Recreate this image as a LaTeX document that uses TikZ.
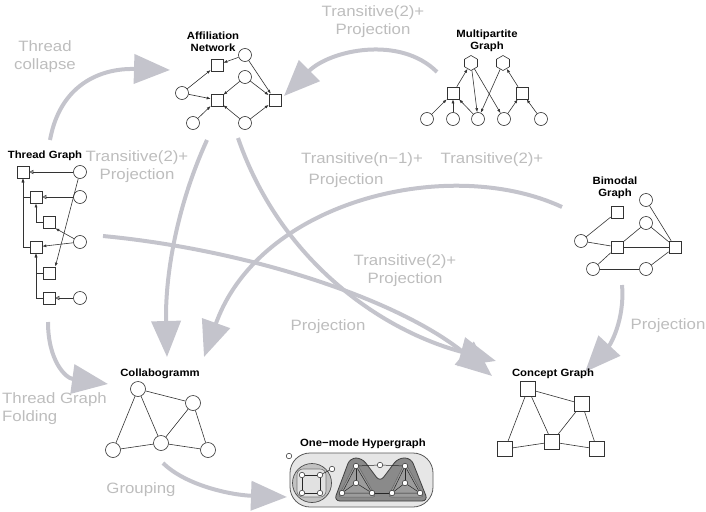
\documentclass[tikz,border=0pt]{standalone}
\usepackage{fontspec}
\setmainfont{Liberation Sans}
\newfontfamily\lblfont[FakeStretch=1.12]{Liberation Sans}
\newfontfamily\titfont[FakeStretch=1.08]{Liberation Sans}
\usetikzlibrary{arrows.meta,shapes.geometric}
\definecolor{arrowgray}{HTML}{C4C4CC}
\definecolor{labelgray}{HTML}{BDBDBD}
\definecolor{hyperlight}{HTML}{E6E6E6}
\definecolor{hypermid}{HTML}{C2C2C2}
\definecolor{hyperdark}{HTML}{8A8A8A}
\begin{document}
\begin{tikzpicture}[x=1pt,y=-1pt,
  sq/.style={draw=black!80,fill=white,rectangle,minimum size=12pt,inner sep=0pt,line width=0.6pt},
  ci/.style={draw=black!80,fill=white,circle,minimum size=13pt,inner sep=0pt,line width=0.6pt},
  bsq/.style={sq,minimum size=15pt},
  bci/.style={ci,minimum size=15pt},
  hexa/.style={draw=black!80,fill=white,regular polygon,regular polygon sides=6,minimum size=15pt,inner sep=0pt,shape border rotate=30,line width=0.6pt},
  edge/.style={line width=0.6pt,draw=black!80},
  arr/.style={edge,-{Latex[length=4pt,width=3pt]}},
  oarr/.style={edge,-{Triangle[open,length=4pt,width=4pt]}},
  bigarrow/.style={draw=arrowgray,line width=4pt,-{Triangle[length=36pt,width=29pt]}},
  title/.style={font=\titfont\bfseries\fontsize{10.5}{12}\selectfont,align=center,inner sep=0pt},
  lbl/.style={text=labelgray,font=\lblfont\fontsize{15}{18}\selectfont,align=center,inner sep=0pt},
  dot/.style={circle,draw=black!85,fill=white,minimum size=5.5pt,inner sep=0pt,line width=0.5pt}]
\useasboundingbox (0,0) rectangle (706,511);

% ---------- big gray arrows ----------
\coordinate (a1s) at (50,140);   \coordinate (a1e) at (170,70);
\coordinate (a2s) at (437,72);   \coordinate (a2e) at (284,96);
\coordinate (a3s) at (207,140);  \coordinate (a3e) at (167,357);
\coordinate (a4s) at (238,138);  \coordinate (a4e) at (496,361);
\coordinate (a5s) at (562,207);  \coordinate (a5e) at (204,357);
\coordinate (a6s) at (103,236);  \coordinate (a6e) at (492,376);
\coordinate (a7s) at (48,322);   \coordinate (a7e) at (108,384);
\coordinate (a8s) at (622,285);  \coordinate (a8e) at (585,372);
\coordinate (a9s) at (163,463);  \coordinate (a9e) at (287,497);
\draw[bigarrow] (a1s) .. controls (60,85) and (100,68) .. (a1e);
\draw[bigarrow] (a2s) .. controls (400,35) and (330,50) .. (a2e);
\draw[bigarrow] (a3s) .. controls (175,210) and (165,280) .. (a3e);
\draw[bigarrow] (a4s) .. controls (280,260) and (380,330) .. (a4e);
\draw[bigarrow] (a5s) .. controls (450,155) and (260,200) .. (a5e);
\draw[bigarrow] (a6s) .. controls (250,250) and (400,300) .. (a6e);
\draw[bigarrow] (a7s) .. controls (48,360) and (65,378) .. (a7e);
\draw[bigarrow] (a8s) .. controls (625,320) and (610,345) .. (a8e);
\draw[bigarrow] (a9s) .. controls (185,485) and (230,495) .. (a9e);

% ---------- gray labels ----------
\node[lbl] (l1) at (45,57) {Thread\\collapse};
\node[lbl] (l2) at (373,22) {Transitive(2)+\\Projection};
\node[lbl] (l3) at (137,167) {Transitive(2)+\\Projection};
\node[lbl] (l4) at (362,160) {Transitive(n−1)+};
\node[lbl] (l5) at (492,160) {Transitive(2)+};
\node[lbl] (l6) at (346,181) {Projection};
\node[lbl] (l7) at (405,271) {Transitive(2)+\\Projection};
\node[lbl] (l8) at (328,327) {Projection};
\node[lbl] (l9) at (668,326) {Projection};
\node[lbl,align=left,anchor=west] (l10) at (2,409) {Thread Graph\\Folding};
\node[lbl] (l11) at (141,490) {Grouping};

% ---------- Thread Graph ----------
\node[title] (tgt) at (45,156) {Thread Graph};
\node[sq] (t1) at (23,172) {};
\node[sq] (t2) at (36,197) {};
\node[sq] (t3) at (49,222) {};
\node[sq] (t4) at (36,247) {};
\node[sq] (t5) at (49,273) {};
\node[sq] (t6) at (49,298) {};
\node[ci] (tc1) at (80,172) {};
\node[ci] (tc2) at (80,197) {};
\node[ci] (tc3) at (80,242) {};
\node[ci] (tc4) at (80,298) {};
\draw[arr] (t2.west) -| (t1.south);
\draw[arr] (t4.west) -| (t1.south);
\draw[arr] (t3.west) -| (t2.south);
\draw[arr] (t5.west) -| (t4.south);
\draw[arr] (t6.west) -| (t4.south);
\draw[oarr] (tc1) -- (t1);
\draw[oarr] (tc2) -- (t2);
\draw[oarr] (tc4) -- (t6);
\draw[arr] (tc1) -- (t5.north east);
\draw[arr] (tc3) -- (t3.south east);
\draw[arr] (tc3) -- (t4);

% ---------- Affiliation Network ----------
\node[title] (aft) at (213,42) {Affiliation\\Network};
\node[sq] (af1) at (217,65) {};
\node[sq] (af2) at (217,100) {};
\node[sq] (af3) at (275,100) {};
\node[ci] (ac1) at (245,55) {};
\node[ci] (ac2) at (182,93) {};
\node[ci] (ac3) at (245,77) {};
\node[ci] (ac4) at (193,123) {};
\node[ci] (ac5) at (245,123) {};
\draw[arr] (ac1) -- (af1);
\draw[arr] (ac1) -- (af3);
\draw[arr] (ac2) -- (af1);
\draw[arr] (ac2) -- (af2);
\draw[arr] (ac3) -- (af2);
\draw[arr] (ac3) -- (af3);
\draw[arr] (ac4) -- (af2);
\draw[arr] (ac5) -- (af2);
\draw[arr] (ac5) -- (af3);

% ---------- Multipartite Graph ----------
\node[title] (mpt) at (487,41) {Multipartite\\Graph};
\node[hexa] (h1) at (471,63) {};
\node[hexa] (h2) at (503,63) {};
\node[sq] (m1) at (453,93) {};
\node[sq] (m2) at (522,93) {};
\node[ci] (mc1) at (427,119) {};
\node[ci] (mc2) at (453,119) {};
\node[ci] (mc3) at (478,119) {};
\node[ci] (mc4) at (504,119) {};
\node[ci] (mc5) at (541,119) {};
\draw[arr] (m1) -- (h1);
\draw[arr] (m2) -- (h2);
\draw[arr] (h1) -- (mc3);
\draw[arr] (h1) -- (mc4);
\draw[arr] (h2) -- (mc3);
\draw[arr] (mc1) -- (m1);
\draw[arr] (mc2) -- (m1);
\draw[arr] (mc3) -- (m1);
\draw[arr] (mc4) -- (m2);
\draw[arr] (mc5) -- (m2);

% ---------- Bimodal Graph ----------
\node[title] (bmt) at (615,188) {Bimodal\\Graph};
\node[sq] (b1) at (617,212) {};
\node[sq] (b2) at (617,247) {};
\node[sq] (b3) at (675,247) {};
\node[ci] (bc1) at (646,200) {};
\node[ci] (bc2) at (646,223) {};
\node[ci] (bc3) at (581,241) {};
\node[ci] (bc4) at (593,269) {};
\node[ci] (bc5) at (646,269) {};
\draw[edge] (bc3) -- (b1);
\draw[edge] (bc3) -- (b2);
\draw[edge] (bc2) -- (b2);
\draw[edge] (bc2) -- (b3);
\draw[edge] (bc1) -- (b3);
\draw[edge] (b2) -- (b3);
\draw[edge] (b2) -- (bc4);
\draw[edge] (bc4) -- (bc5);
\draw[edge] (bc5) -- (b3);

% ---------- Collabogramm ----------
\node[title] (cgt) at (160,374) {Collabogramm};
\node[bci] (k1) at (138,389) {};
\node[bci] (k2) at (193,403) {};
\node[bci] (k3) at (113,450) {};
\node[bci] (k4) at (161,443) {};
\node[bci] (k5) at (208,450) {};
\draw[edge] (k1) -- (k2);
\draw[edge] (k1) -- (k3);
\draw[edge] (k1) -- (k4);
\draw[edge] (k2) -- (k4);
\draw[edge] (k2) -- (k5);
\draw[edge] (k3) -- (k4);
\draw[edge] (k4) -- (k5);

% ---------- Concept Graph ----------
\node[title] (cpt) at (553,374) {Concept Graph};
\node[bsq] (q1) at (528,389) {};
\node[bsq] (q2) at (582,404) {};
\node[bsq] (q3) at (505,449) {};
\node[bsq] (q4) at (552,442) {};
\node[bsq] (q5) at (597,449) {};
\draw[edge] (q1) -- (q2);
\draw[edge] (q1) -- (q3);
\draw[edge] (q1) -- (q4);
\draw[edge] (q2) -- (q4);
\draw[edge] (q2) -- (q5);
\draw[edge] (q3) -- (q4);
\draw[edge] (q4) -- (q5);

% ---------- One-mode Hypergraph ----------
\node[title] (hgt) at (363,444) {One−mode Hypergraph};
\draw[draw=black!65,fill=hyperlight,line width=0.8pt,rounded corners=20pt] (290,453) rectangle (433,507);
\draw[draw=black!70,fill=hypermid,line width=0.7pt] (312,483) circle (19.5);
\draw[draw=black!55,fill=hyperlight!85!hypermid,line width=0.6pt,rounded corners=6pt] (297,469) rectangle (326,497);
\draw[draw=black!75,fill=hyperdark,line width=0.8pt,rounded corners=6pt]
  (334,501) -- (350,458) -- (362,458) -- (380,482) -- (398,458) -- (411,458) -- (428,501) -- cycle;
\draw[draw=black!60,fill=hyperdark!85!white,line width=0.5pt,rounded corners=3pt]
  (338,497) -- (356,462) -- (376,497) -- cycle;
\draw[draw=black!60,fill=hyperdark!85!white,line width=0.5pt,rounded corners=3pt]
  (388,497) -- (405,462) -- (424,497) -- cycle;
\node[dot] (d0) at (289,456) {};
\node[dot] (d1) at (302,475) {};
\node[dot] (d2) at (320,475) {};
\node[dot] (d3) at (302,493) {};
\node[dot] (d4) at (320,493) {};
\node[dot] (d5) at (332,469) {};
\node[dot] (e1) at (356,466) {};
\node[dot] (e2) at (380,465) {};
\node[dot] (e3) at (405,466) {};
\node[dot] (e4) at (356,483) {};
\node[dot] (e5) at (405,483) {};
\node[dot] (e6) at (342,493) {};
\node[dot] (e7) at (372,493) {};
\node[dot] (e8) at (392,493) {};
\node[dot] (e9) at (420,493) {};
\begin{scope}[line width=0.5pt,draw=black!85]
\draw (d1) -- (d2) -- (d4) -- (d3) -- (d1);
\draw (d2) -- (d5);
\draw (e1) -- (e2) -- (e3);
\draw (e1) -- (e6) -- (e7) -- (e1);
\draw (e1) -- (e4); \draw (e4) -- (e6); \draw (e4) -- (e7);
\draw (e3) -- (e8) -- (e9) -- (e3);
\draw (e3) -- (e5); \draw (e5) -- (e8); \draw (e5) -- (e9);
\draw (e7) -- (e8);
\end{scope}
\end{tikzpicture}
\end{document}
